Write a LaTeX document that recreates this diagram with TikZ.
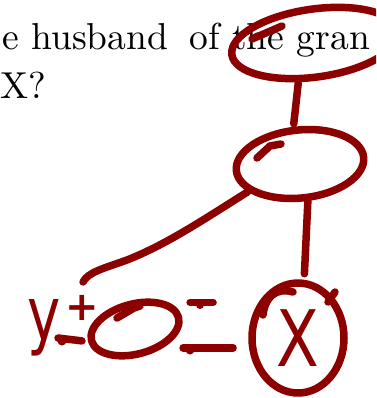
\documentclass[tikz,border=0pt]{standalone}
\usepackage{graphicx}
\usepackage{fontspec}
\setmainfont{lmroman10-regular.otf}
\newfontfamily\handfont{DejaVu Sans}
\usetikzlibrary{shapes.geometric,calc}
\definecolor{ink}{RGB}{140,0,0}
\begin{document}
\begin{tikzpicture}[x=1pt,y=1pt,
  inkline/.style={draw=ink, line width=7.5pt, line cap=round, line join=round},
  inkshape/.style={inkline, ellipse, inner sep=0pt},
  qtext/.style={anchor=base west, inner sep=0pt, font=\fontsize{37.5}{45}\selectfont},
  handtext/.style={text=ink, inner sep=0pt, font=\handfont\fontsize{75}{75}\selectfont},
  blob/.style={fill=ink, draw=none}]
\useasboundingbox (0,0) rectangle (376,-398);
\clip (0,0) rectangle (376,-398);
% question text
\node[qtext] (q1) at (2,-50) {e husband \hspace{9pt}of the gran};
\node[qtext] (q2) at (0,-99) {X?};
% family nodes
\node[inkshape, minimum width=168pt, minimum height=68pt, rotate=8] (gm) at (315,-43) {};
\node[inkshape, minimum width=128pt, minimum height=68pt, rotate=6] (p) at (300,-164) {};
\node[inkshape, minimum width=90pt, minimum height=50pt, rotate=15] (sp) at (135,-329) {};
\node[inkshape, minimum width=92pt, minimum height=110pt, text=ink,
      font=\handfont\fontsize{78}{78}\selectfont] (xn) at (298,-338) {\scalebox{0.8}[1]{X}};
\node[handtext, anchor=base west] (ylab) at (27,-340)
  {\scalebox{0.75}[1]{y}\hspace{5pt}\raisebox{20pt}{\fontsize{40}{40}\selectfont\bfseries +}};
\coordinate (yend) at (83,-282);
% connectors
\draw[inkline, shorten <=1pt, shorten >=3pt] (gm.-121) -- (p.94);
\draw[inkline, shorten >=6pt] (p.-84) -- (xn.84);
\draw[inkline] (p.-158) .. controls (200,-222) and (165,-245) .. (127,-260)
  .. controls (105,-268) and (88,-272) .. (yend);
\draw[inkline, shorten >=6pt] ($(ylab.base west)+(31,2)$) -- (sp.west);
\draw[inkline] (sp.east) ++(8,14) -- ++(23,0);
\draw[inkline] (sp.east) ++(1,-31.5) -- ++(50,0);
% pen blobs
\fill[blob] (62,-341) circle (4.5);
\fill[blob] (190,-350) circle (4.5);
\fill[blob] (200,-305) circle (4);
% pen-start tails
\draw[inkline] (252,-39) -- (282,-26);
\draw[inkline] (257,-158) -- (270,-146) -- (281,-144);
\draw[inkline] (117,-318) -- (134,-308) -- (140,-306);
\draw[inkline] (263,-315) .. controls (265,-298) and (275,-287) .. (293,-292);
\draw[inkline] (328,-302) -- (335,-292);
\end{tikzpicture}
\end{document}
